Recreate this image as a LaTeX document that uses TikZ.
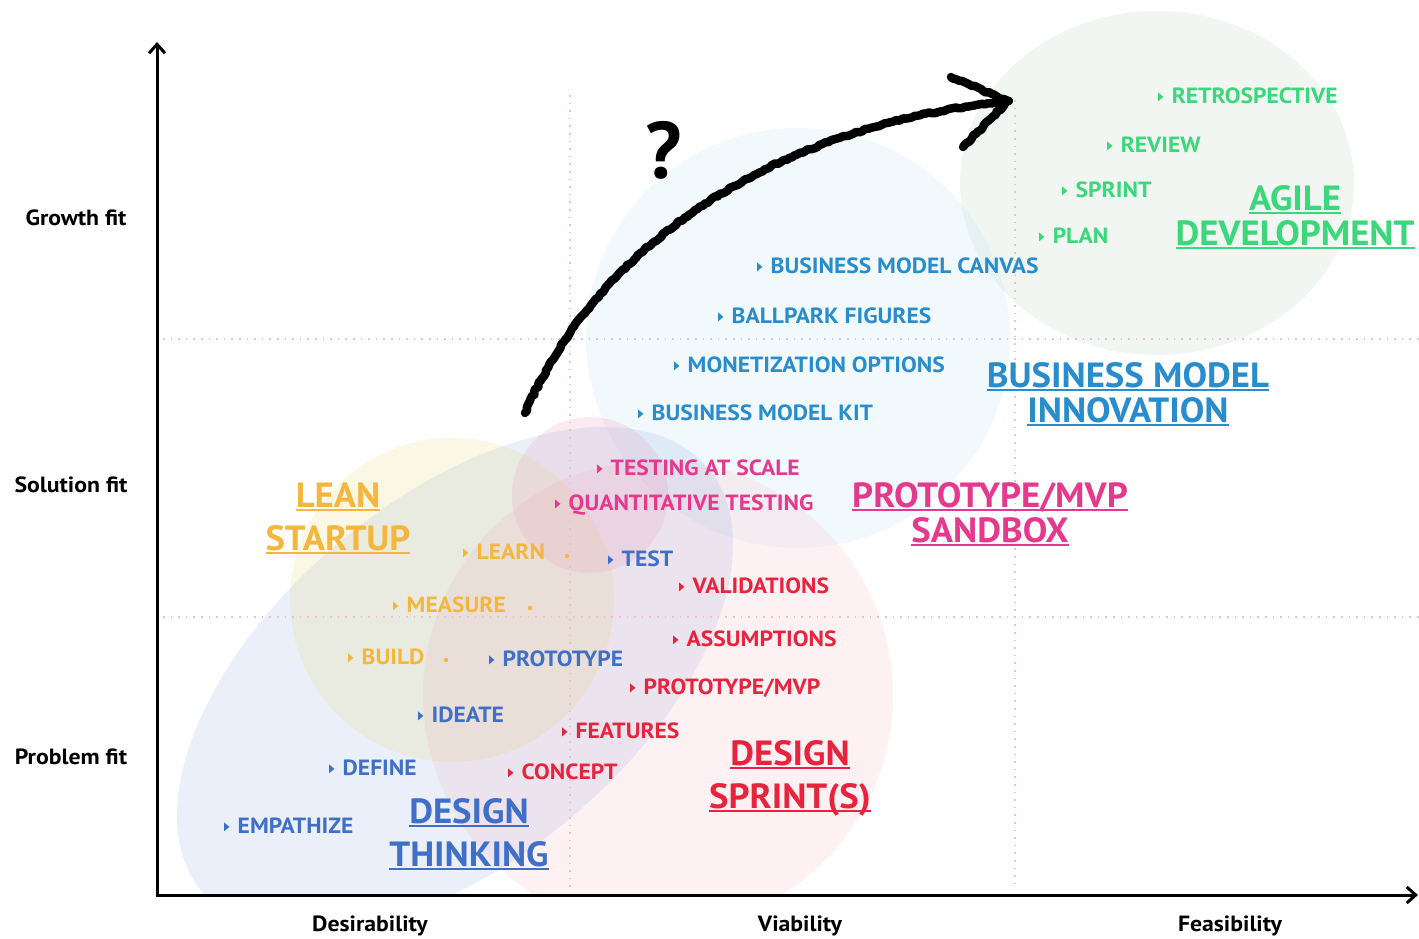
\documentclass[tikz,border=0pt]{standalone}
\usepackage{fontspec}
\setmainfont{PT Sans}
\newfontfamily\symfont{DejaVu Sans}
\newfontfamily\itemfont[FakeStretch=1.07]{PT Sans}
\newfontfamily\ttlfont[FakeStretch=1.05]{PT Sans}
\newfontfamily\axfont[FakeStretch=1.08]{PT Sans}
\usetikzlibrary{arrows.meta,decorations.pathmorphing}
\definecolor{agilegreen}{HTML}{3CD77A}
\definecolor{bmblue}{HTML}{288CCD}
\definecolor{mvppink}{HTML}{E4398D}
\definecolor{leanorange}{HTML}{F4B63F}
\definecolor{dtblue}{HTML}{3F6FC6}
\definecolor{sprintred}{HTML}{E8243C}
\definecolor{gridpink}{HTML}{F0BECD}
\definecolor{agilefill}{HTML}{B9D3C2}
\definecolor{bmfill}{HTML}{9DD2EA}
\definecolor{dtfill}{HTML}{7C9DDB}
\definecolor{leanfill}{HTML}{E6DC7A}
\definecolor{sprintfill}{HTML}{F58CA0}
\definecolor{mvpfill}{HTML}{E58AB4}
\newcommand{\bul}{\raisebox{3pt}{\scalebox{0.6}[1]{\symfont\fontsize{12}{12}\selectfont ▶}}\hspace{8pt}}
\newcommand{\undl}[1]{\setbox0\hbox{#1}\rlap{\rule[-3.5pt]{\wd0}{1.8pt}}\box0}
\tikzset{item/.style={anchor=west, inner sep=0pt, font=\itemfont\bfseries\fontsize{22}{22}\selectfont},
  ttl/.style={align=center, inner sep=0pt, font=\ttlfont\bfseries\fontsize{35}{#1}\selectfont}, ttl/.default=35,
  axlabel/.style={font=\axfont\bfseries\fontsize{22}{22}\selectfont, text=black},
  gridline/.style={draw=gridpink, line width=1.6pt, dash pattern=on 1.6pt off 6pt},
  axis/.style={black, line width=3pt, {Straight Barb[length=9pt,width=16pt]}-{Straight Barb[length=9pt,width=16pt]}},
  scribble/.style={black, line width=8.5pt, line cap=round, line join=round, decorate,
    decoration={random steps, segment length=3pt, amplitude=1pt}}}

\begin{document}
\begin{tikzpicture}[x=1pt,y=-1pt]
  \useasboundingbox (0,0) rectangle (1419,939);
  \begin{scope}
   \clip (159,0) rectangle (1419,893);
   \fill[agilefill, fill opacity=0.2] (1157,183) ellipse [x radius=197, y radius=172];
   \fill[bmfill, fill opacity=0.13] (798,338) ellipse [x radius=212, y radius=210];
   \fill[dtfill, fill opacity=0.16, rotate around={40:(455,680)}] (455,680) ellipse [x radius=330, y radius=180];
   \fill[leanfill, fill opacity=0.2] (452,600) circle (162);
   \fill[sprintfill, fill opacity=0.12] (658,695) circle (235);
   \fill[mvpfill, fill opacity=0.18] (590,495) circle (78);
  \end{scope}
  \draw[gridline] (570,95) -- (570,890);
  \draw[gridline] (1015,100) -- (1015,890);
  \draw[gridline] (163,339) -- (1419,339);
  \draw[gridline] (163,617) -- (1419,617);
  \coordinate (o) at (157,895);
  \coordinate (ytop) at (157,42);
  \coordinate (xend) at (1418,895);
  \draw[axis] (ytop) -- (o) -- (xend);
  \node[axlabel] (growth) at (76,218) {Growth fit};
  \node[axlabel] (solution) at (71,485) {Solution fit};
  \node[axlabel] (problem) at (71,757) {Problem fit};
  \node[axlabel] (desir) at (370,926) {Desirability};
  \node[axlabel] (viab) at (800,926) {Viability};
  \node[axlabel] (feas) at (1230,926) {Feasibility};
  \coordinate (s) at (525,413);
  \coordinate (t) at (1008,101);
  \draw[scribble] (s) .. controls (600,240) and (780,125) .. (t);
  \draw[scribble] (t) -- (951,77);
  \draw[scribble] (t) -- (963,147);
  \node[font=\bfseries\fontsize{80}{80}\selectfont] (q) at (664,150) {?};
  \node[item, text=agilegreen] (retro) at (1158,96) {\bul RETROSPECTIVE};
  \node[item, text=agilegreen] (review) at (1107,145) {\bul REVIEW};
  \node[item, text=agilegreen] (sprint) at (1062,190) {\bul SPRINT};
  \node[item, text=agilegreen] (plan) at (1039,236) {\bul PLAN};
  \node[ttl, text=agilegreen] (agile) at (1295,217) {\undl{AGILE}\\\undl{DEVELOPMENT}};
  \node[item, text=bmblue] (canvas) at (757,266) {\bul BUSINESS MODEL CANVAS};
  \node[item, text=bmblue] (ballpark) at (718,316) {\bul BALLPARK FIGURES};
  \node[item, text=bmblue] (monet) at (674,365) {\bul MONETIZATION OPTIONS};
  \node[item, text=bmblue] (kit) at (638,413) {\bul BUSINESS MODEL KIT};
  \node[ttl, text=bmblue] (bmi) at (1128,394) {\undl{BUSINESS MODEL}\\\undl{INNOVATION}};
  \node[item, text=mvppink] (atscale) at (597,468) {\bul TESTING AT SCALE};
  \node[item, text=mvppink] (quant) at (555,505) {\bul QUANTITATIVE TESTING};
  \node[ttl, text=mvppink] (sandbox) at (990,514) {\undl{PROTOTYPE/MVP}\\\undl{SANDBOX}};
  \node[ttl=43, text=leanorange] (lean) at (338,518) {\undl{LEAN}\\\undl{STARTUP}};
  \node[item, text=leanorange] (learn) at (463,552) {\bul LEARN};
  \node[item, text=leanorange] (measure) at (393,605) {\bul MEASURE};
  \node[item, text=leanorange] (build) at (348,657) {\bul BUILD};
  \fill[leanorange] (567,556) circle (2.2);
  \fill[leanorange] (530,608) circle (2.2);
  \fill[leanorange] (446,660) circle (2.2);
  \node[item, text=dtblue] (test) at (608,559) {\bul TEST};
  \node[item, text=dtblue] (proto) at (489,659) {\bul PROTOTYPE};
  \node[item, text=dtblue] (ideate) at (418,715) {\bul IDEATE};
  \node[item, text=dtblue] (define) at (329,768) {\bul DEFINE};
  \node[item, text=dtblue] (empath) at (224,826) {\bul EMPATHIZE};
  \node[ttl=43, text=dtblue] (dt) at (469,834) {\undl{DESIGN}\\\undl{THINKING}};
  \node[item, text=sprintred] (valid) at (679,586) {\bul VALIDATIONS};
  \node[item, text=sprintred] (assum) at (673,639) {\bul ASSUMPTIONS};
  \node[item, text=sprintred] (mvp) at (630,688) {\bul PROTOTYPE/MVP};
  \node[item, text=sprintred] (feat) at (562,731) {\bul FEATURES};
  \node[item, text=sprintred] (concept) at (508,772) {\bul CONCEPT};
  \node[ttl=43, text=sprintred] (ds) at (790,778) {\undl{DESIGN}\\\undl{SPRINT(S)}};
\end{tikzpicture}
\end{document}
